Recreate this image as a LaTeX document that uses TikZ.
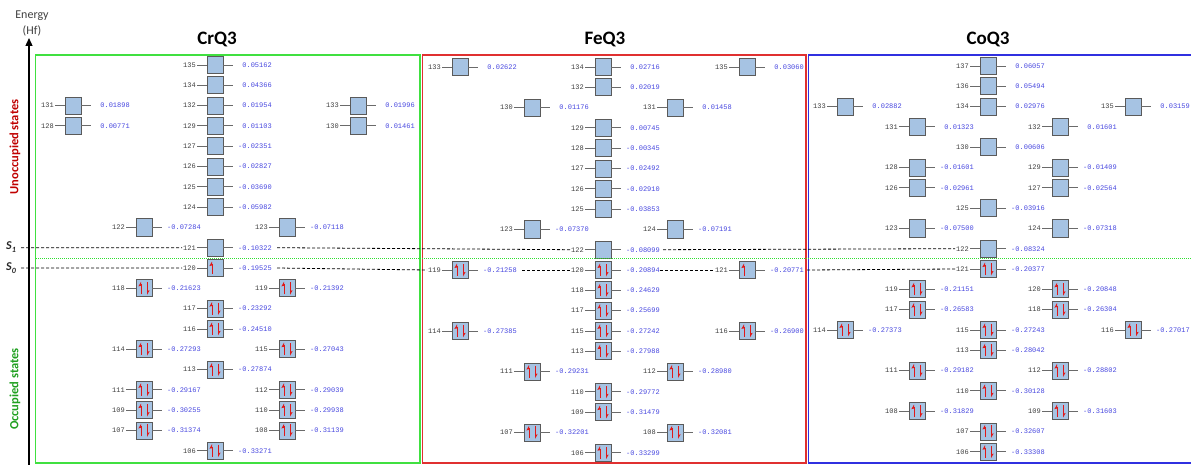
\documentclass[tikz,border=0pt]{standalone}
\usepackage{fontspec}
\setmainfont{Carlito}
\newfontfamily\monof{Liberation Mono}
\usetikzlibrary{arrows.meta}
\definecolor{boxfill}{HTML}{A6C3E3}
\definecolor{boxdraw}{HTML}{5A5A5A}
\definecolor{linegray}{HTML}{6A6A6A}
\definecolor{numgray}{HTML}{404040}
\definecolor{enblue}{HTML}{4848E0}
\definecolor{spinred}{HTML}{E01818}
\definecolor{crgreen}{HTML}{40E040}
\definecolor{fered}{HTML}{E03030}
\definecolor{coblue}{HTML}{3030E0}
\definecolor{unocc}{HTML}{C00000}
\definecolor{occ}{HTML}{20A020}
\definecolor{dotgreen}{HTML}{30E030}
\newcommand\upar[1]{%
  \draw[spin] ([shift={(-3,6)}]#1.center) -- ([shift={(-3,-4)}]#1.center);
  \fill[spinred] ([shift={(-3,-6.5)}]#1.center) -- ([shift={(-5.6,-2)}]#1.center) -- ([shift={(-3,-2.5)}]#1.center) -- cycle;}
\newcommand\dnar[1]{%
  \draw[spin] ([shift={(3,-6)}]#1.center) -- ([shift={(3,4)}]#1.center);
  \fill[spinred] ([shift={(3,6.5)}]#1.center) -- ([shift={(5.6,2)}]#1.center) -- ([shift={(3,2.5)}]#1.center) -- cycle;}
\newcommand\orb[6]{%
  \node[obox] (#1) at ({\cx+#2},{\yz+20.3*#3}) {};
  \node[onum] (#1n) at ([xshift=-18pt]#1.center) {#4};
  \node[oen] (#1e) at ([xshift=57pt]#1.center) {#5};
  \draw[oline] (#1n.east) -- (#1.west);
  \draw[oline] (#1.east) -- ++(10,0);
  \ifcase#6\relax\or\upar{#1}\or\upar{#1}\dnar{#1}\fi}
\begin{document}
\begin{tikzpicture}[x=1pt,y=-1pt,
  obox/.style={draw=boxdraw,fill=boxfill,line width=0.8pt,minimum width=16pt,minimum height=17pt,inner sep=0pt},
  onum/.style={anchor=east,inner sep=1pt,text=numgray,font=\monof\fontsize{7}{8}\selectfont},
  oen/.style={anchor=east,inner sep=0pt,text=enblue,font=\monof\fontsize{7}{8}\selectfont},
  oline/.style={draw=linegray,line width=0.8pt},
  spin/.style={draw=spinred,line width=0.9pt},
  panel/.style={line width=1.5pt},
  ptitle/.style={font=\bfseries\fontsize{19}{20}\selectfont,text=black},
  sline/.style={draw=black,line width=0.8pt,dash pattern=on 3pt off 2pt},
  gline/.style={draw=dotgreen,line width=1pt,dash pattern=on 1pt off 1pt},
  slabel/.style={font=\bfseries\itshape\fontsize{12}{12}\selectfont,text=black!85},
  state/.style={rotate=90,font=\bfseries\fontsize{12.5}{12.5}\selectfont}]
\useasboundingbox (0,0) rectangle (1191,465);
\clip (0,0) rectangle (1191,465);
\fill[white] (0,0) rectangle (1191,465);
% panels
\draw[panel,draw=crgreen] (35.5,55) rectangle (420,463);
\draw[panel,draw=fered] (422.5,55) rectangle (806,463);
\draw[panel,draw=coblue] (808.5,55) rectangle (1200,463);
\node[ptitle] (crt) at (217,39) {CrQ3};
\node[ptitle] (fet) at (605,39) {FeQ3};
\node[ptitle] (cot) at (988,39) {CoQ3};
% axis
\coordinate (axb) at (29,466);
\coordinate (axt) at (29,38);
\node[text=black!75,font=\fontsize{12}{12}\selectfont] (en) at (32,16) {Energy};
\node[text=black!75,font=\fontsize{12}{12}\selectfont] (hf) at (32,31) {(Hf)};
\node[state,text=unocc] (uo) at (15,147) {Unoccupied states};
\node[state,text=occ] (oc) at (15,389) {Occupied states};
\node[slabel] (s1) at (11,247) {S\raisebox{-2.5pt}{\fontsize{8}{8}\selectfont 1}};
\node[slabel] (s0) at (11,268) {S\raisebox{-2.5pt}{\fontsize{8}{8}\selectfont 0}};
% CrQ3
\def\cx{215}\def\yz{65}
\orb{cr135}{0}{0}{135}{0.05162}{0}
\orb{cr134}{0}{1}{134}{0.04366}{0}
\orb{cr131}{-142}{2}{131}{0.01898}{0}
\orb{cr132}{0}{2}{132}{0.01954}{0}
\orb{cr133}{143}{2}{133}{0.01996}{0}
\orb{cr128}{-142}{3}{128}{0.00771}{0}
\orb{cr129}{0}{3}{129}{0.01103}{0}
\orb{cr130}{143}{3}{130}{0.01461}{0}
\orb{cr127}{0}{4}{127}{-0.02351}{0}
\orb{cr126}{0}{5}{126}{-0.02827}{0}
\orb{cr125}{0}{6}{125}{-0.03690}{0}
\orb{cr124}{0}{7}{124}{-0.05982}{0}
\orb{cr122}{-71}{8}{122}{-0.07284}{0}
\orb{cr123}{72}{8}{123}{-0.07118}{0}
\orb{cr121}{0}{9}{121}{-0.10322}{0}
\orb{cr120}{0}{10}{120}{-0.19525}{1}
\orb{cr118}{-71}{11}{118}{-0.21623}{2}
\orb{cr119}{72}{11}{119}{-0.21392}{2}
\orb{cr117}{0}{12}{117}{-0.23292}{2}
\orb{cr116}{0}{13}{116}{-0.24510}{2}
\orb{cr114}{-71}{14}{114}{-0.27293}{2}
\orb{cr115}{72}{14}{115}{-0.27043}{2}
\orb{cr113}{0}{15}{113}{-0.27874}{2}
\orb{cr111}{-71}{16}{111}{-0.29167}{2}
\orb{cr112}{72}{16}{112}{-0.29039}{2}
\orb{cr109}{-71}{17}{109}{-0.30255}{2}
\orb{cr110}{72}{17}{110}{-0.29938}{2}
\orb{cr107}{-71}{18}{107}{-0.31374}{2}
\orb{cr108}{72}{18}{108}{-0.31139}{2}
\orb{cr106}{0}{19}{106}{-0.33271}{2}
% FeQ3
\def\cx{603}\def\yz{67}
\orb{fe133}{-143}{0}{133}{0.02622}{0}
\orb{fe134}{0}{0}{134}{0.02716}{0}
\orb{fe135}{144}{0}{135}{0.03060}{0}
\orb{fe132}{0}{1}{132}{0.02019}{0}
\orb{fe130}{-71}{2}{130}{0.01176}{0}
\orb{fe131}{72}{2}{131}{0.01458}{0}
\orb{fe129}{0}{3}{129}{0.00745}{0}
\orb{fe128}{0}{4}{128}{-0.00345}{0}
\orb{fe127}{0}{5}{127}{-0.02492}{0}
\orb{fe126}{0}{6}{126}{-0.02910}{0}
\orb{fe125}{0}{7}{125}{-0.03853}{0}
\orb{fe123}{-71}{8}{123}{-0.07370}{0}
\orb{fe124}{72}{8}{124}{-0.07191}{0}
\orb{fe122}{0}{9}{122}{-0.08099}{0}
\orb{fe119}{-143}{10}{119}{-0.21258}{2}
\orb{fe120}{0}{10}{120}{-0.20894}{2}
\orb{fe121}{144}{10}{121}{-0.20771}{1}
\orb{fe118}{0}{11}{118}{-0.24629}{2}
\orb{fe117}{0}{12}{117}{-0.25699}{2}
\orb{fe114}{-143}{13}{114}{-0.27385}{2}
\orb{fe115}{0}{13}{115}{-0.27242}{2}
\orb{fe116}{144}{13}{116}{-0.26900}{2}
\orb{fe113}{0}{14}{113}{-0.27988}{2}
\orb{fe111}{-71}{15}{111}{-0.29231}{2}
\orb{fe112}{72}{15}{112}{-0.28980}{2}
\orb{fe110}{0}{16}{110}{-0.29772}{2}
\orb{fe109}{0}{17}{109}{-0.31479}{2}
\orb{fe107}{-71}{18}{107}{-0.32201}{2}
\orb{fe108}{72}{18}{108}{-0.32081}{2}
\orb{fe106}{0}{19}{106}{-0.33299}{2}
% CoQ3
\def\cx{988}\def\yz{66}
\orb{co137}{0}{0}{137}{0.06057}{0}
\orb{co136}{0}{1}{136}{0.05494}{0}
\orb{co133}{-143}{2}{133}{0.02882}{0}
\orb{co134}{0}{2}{134}{0.02976}{0}
\orb{co135}{145}{2}{135}{0.03159}{0}
\orb{co131}{-71}{3}{131}{0.01323}{0}
\orb{co132}{72}{3}{132}{0.01601}{0}
\orb{co130}{0}{4}{130}{0.00606}{0}
\orb{co128}{-71}{5}{128}{-0.01601}{0}
\orb{co129}{72}{5}{129}{-0.01409}{0}
\orb{co126}{-71}{6}{126}{-0.02961}{0}
\orb{co127}{72}{6}{127}{-0.02564}{0}
\orb{co125}{0}{7}{125}{-0.03916}{0}
\orb{co123}{-71}{8}{123}{-0.07500}{0}
\orb{co124}{72}{8}{124}{-0.07318}{0}
\orb{co122}{0}{9}{122}{-0.08324}{0}
\orb{co121}{0}{10}{121}{-0.20377}{2}
\orb{co119}{-71}{11}{119}{-0.21151}{2}
\orb{co120}{72}{11}{120}{-0.20848}{2}
\orb{co117}{-71}{12}{117}{-0.26583}{2}
\orb{co118}{72}{12}{118}{-0.26304}{2}
\orb{co114}{-143}{13}{114}{-0.27373}{2}
\orb{co115}{0}{13}{115}{-0.27243}{2}
\orb{co116}{145}{13}{116}{-0.27017}{2}
\orb{co113}{0}{14}{113}{-0.28042}{2}
\orb{co111}{-71}{15}{111}{-0.29182}{2}
\orb{co112}{72}{15}{112}{-0.28802}{2}
\orb{co110}{0}{16}{110}{-0.30128}{2}
\orb{co108}{-71}{17}{108}{-0.31829}{2}
\orb{co109}{72}{17}{109}{-0.31603}{2}
\orb{co107}{0}{18}{107}{-0.32607}{2}
\orb{co106}{0}{19}{106}{-0.33308}{2}
% S1 / S0 lines and the green separator
\coordinate (s1a) at (21,247.7);
\coordinate (s0a) at (21,268);
\coordinate (ga) at (36,258);
\coordinate (gb) at (1191,258);
\draw[gline] (ga) -- (gb);
\draw[sline] (s1a) -- (cr121n.west);
\draw[sline] (cr121e.east) ++(5,0) -- (fe122n.west);
\draw[sline] (fe122e.east) ++(3,0) -- (co122n.west);
\draw[sline] (s0a) -- (cr120n.west);
\draw[sline] (cr120e.east) ++(5,0) -- (fe119n.west);
\draw[sline] (fe119e.east) ++(5,0) -- (fe120n.west);
\draw[sline] (fe120e.east) -- (fe121n.west);
\draw[sline] (fe121e.east) ++(3,0) -- (co121n.west);
\draw[line width=1.3pt,-{Triangle[length=8pt,width=7pt]}] (axb) -- (axt);
\end{tikzpicture}
\end{document}
